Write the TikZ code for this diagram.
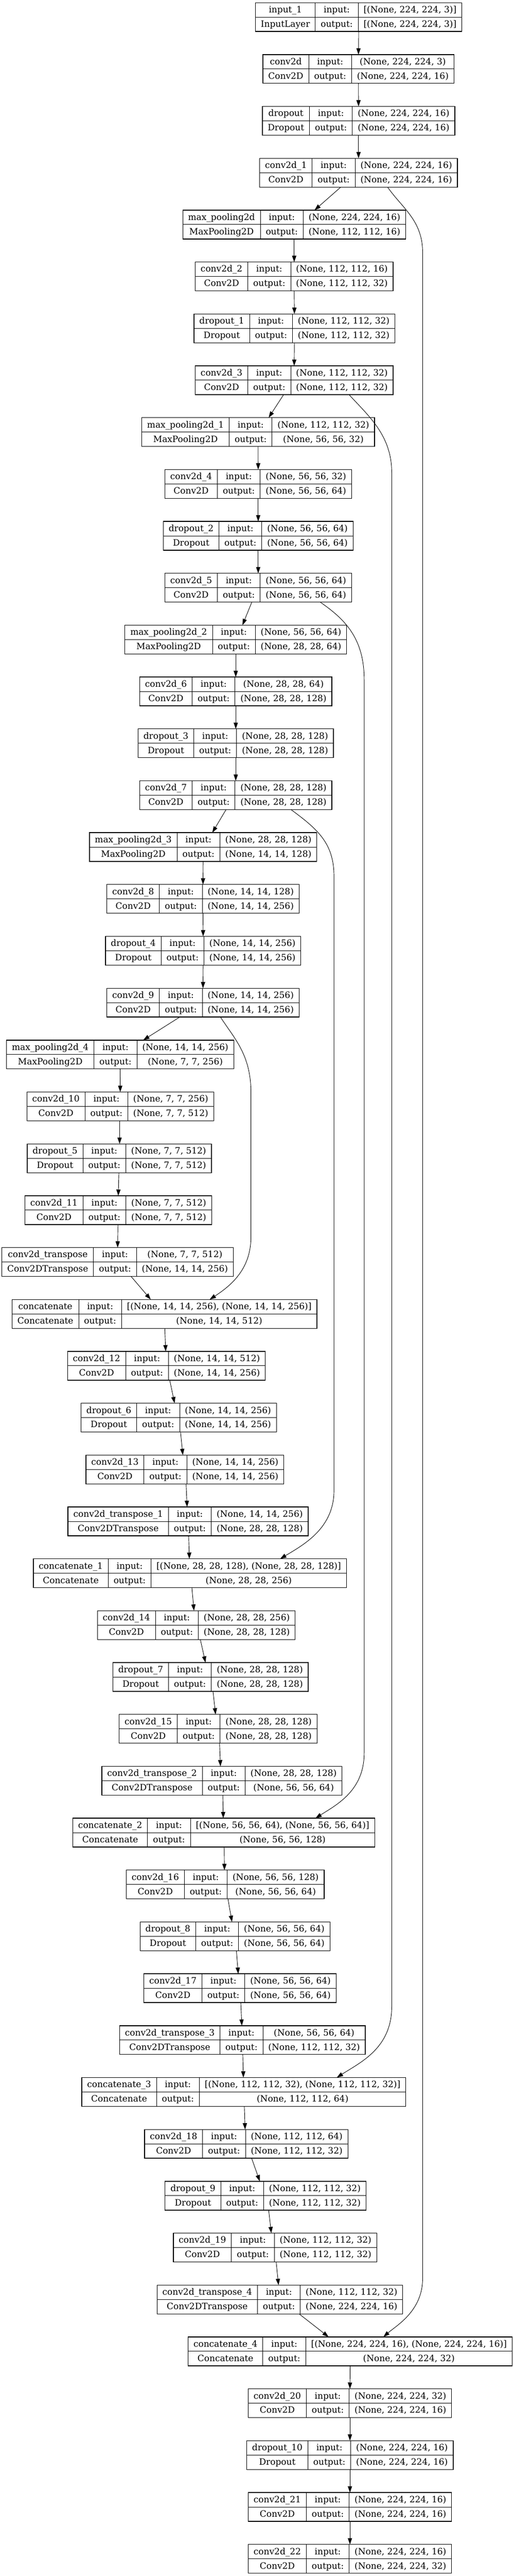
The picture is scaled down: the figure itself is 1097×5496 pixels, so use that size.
\documentclass[tikz,border=0pt]{standalone}
\usepackage{fontspec}
\setmainfont{DejaVu Serif}
\usetikzlibrary{arrows.meta}
\newcommand\kfont{\fontsize{14}{16}\selectfont}
\tikzset{
  kcell/.style={line width=0.75pt, draw=black},
  kbox/.style={line width=1.1pt, draw=black},
  ktext/.style={anchor=base, inner sep=0pt, outer sep=0pt, font=\kfont},
  karrow/.style={line width=0.75pt, draw=black, -{Triangle[length=10pt,width=6.75pt]}},
}
% width of a text, in px (1px = 0.75pt)
\newcommand\kmeasure[2]{%
  \node[ktext, anchor=base west] (kmeas) at (0,0) {\phantom{#2}};%
  \pgfpointdiff{\pgfpointanchor{kmeas}{west}}{\pgfpointanchor{kmeas}{east}}%
  \pgfgetlastxy{\kmx}{\kmy}%
  \pgfmathsetmacro#1{\kmx/0.75}%
}
% #1 name, #2 centre x (px), #3 rank, #4 layer name, #5 class, #6 input shape, #7 output shape
\newcommand\klayer[7]{%
  \kmeasure\kma{#4}\kmeasure\kmb{#5}%
  \pgfmathsetmacro\kwA{max(\kma,\kmb)+23}%
  \kmeasure\kma{input:}\kmeasure\kmb{output:}%
  \pgfmathsetmacro\kwB{max(\kma,\kmb)+23}%
  \kmeasure\kma{#6}\kmeasure\kmb{#7}%
  \pgfmathsetmacro\kwC{max(\kma,\kmb)+23}%
  \pgfmathsetmacro\kW{\kwA+\kwB+\kwC}%
  \pgfmathsetmacro\kWpt{\kW*0.75}%
  \pgfmathsetmacro\kL{#2-\kW/2}%
  \pgfmathsetmacro\kT{5.7+110.67*#3}%
  \node[minimum width=\kWpt pt, minimum height=46.125pt, inner sep=0pt, outer sep=0pt] (#1) at (#2, \kT+30.75) {};
  \draw[kcell] (\kL, \kT+30.75) -- ++(\kW, 0);
  \draw[kcell] (\kL+\kwA, \kT) -- ++(0, 61.5);
  \draw[kcell] (\kL+\kwA+\kwB, \kT) -- ++(0, 61.5);
  \draw[kbox] (\kL, \kT) rectangle ++(\kW, 61.5);
  \node[ktext] (#1-n) at (\kL+\kwA/2, \kT+21.3) {#4};
  \node[ktext] (#1-c) at (\kL+\kwA/2, \kT+52.05) {#5};
  \node[ktext] (#1-il) at (\kL+\kwA+\kwB/2, \kT+21.3) {input:};
  \node[ktext] (#1-ol) at (\kL+\kwA+\kwB/2, \kT+52.05) {output:};
  \node[ktext] (#1-i) at (\kL+\kwA+\kwB+\kwC/2, \kT+21.3) {#6};
  \node[ktext] (#1-o) at (\kL+\kwA+\kwB+\kwC/2, \kT+52.05) {#7};
}
\newcommand\kedge[4]{\draw[karrow] ([xshift=#2*0.75pt]#1.south) -- ([xshift=#4*0.75pt]#3.north);}
\begin{document}
\begin{tikzpicture}[x=0.75pt, y=-0.75pt]
\fill[white] (0,0) rectangle (1097,5496);
\useasboundingbox (0,0) rectangle (1097,5496);
\klayer{n0}{766.2}{0}{input\_1}{InputLayer}{[(None, 224, 224, 3)]}{[(None, 224, 224, 3)]}
\klayer{n1}{765.8}{1}{conv2d}{Conv2D}{(None, 224, 224, 3)}{(None, 224, 224, 16)}
\klayer{n2}{766}{2}{dropout}{Dropout}{(None, 224, 224, 16)}{(None, 224, 224, 16)}
\klayer{n3}{766}{3}{conv2d\_1}{Conv2D}{(None, 224, 224, 16)}{(None, 224, 224, 16)}
\klayer{n4}{628.5}{4}{max\_pooling2d}{MaxPooling2D}{(None, 224, 224, 16)}{(None, 112, 112, 16)}
\klayer{n5}{628.5}{5}{conv2d\_2}{Conv2D}{(None, 112, 112, 16)}{(None, 112, 112, 32)}
\klayer{n6}{629}{6}{dropout\_1}{Dropout}{(None, 112, 112, 32)}{(None, 112, 112, 32)}
\klayer{n7}{628.5}{7}{conv2d\_3}{Conv2D}{(None, 112, 112, 32)}{(None, 112, 112, 32)}
\klayer{n8}{551.5}{8}{max\_pooling2d\_1}{MaxPooling2D}{(None, 112, 112, 32)}{(None, 56, 56, 32)}
\klayer{n9}{551.6}{9}{conv2d\_4}{Conv2D}{(None, 56, 56, 32)}{(None, 56, 56, 64)}
\klayer{n10}{551.6}{10}{dropout\_2}{Dropout}{(None, 56, 56, 64)}{(None, 56, 56, 64)}
\klayer{n11}{551.6}{11}{conv2d\_5}{Conv2D}{(None, 56, 56, 64)}{(None, 56, 56, 64)}
\klayer{n12}{503.7}{12}{max\_pooling2d\_2}{MaxPooling2D}{(None, 56, 56, 64)}{(None, 28, 28, 64)}
\klayer{n13}{503.7}{13}{conv2d\_6}{Conv2D}{(None, 28, 28, 64)}{(None, 28, 28, 128)}
\klayer{n14}{503.7}{14}{dropout\_3}{Dropout}{(None, 28, 28, 128)}{(None, 28, 28, 128)}
\klayer{n15}{503.7}{15}{conv2d\_7}{Conv2D}{(None, 28, 28, 128)}{(None, 28, 28, 128)}
\klayer{n16}{434}{16}{max\_pooling2d\_3}{MaxPooling2D}{(None, 28, 28, 128)}{(None, 14, 14, 128)}
\klayer{n17}{433.7}{17}{conv2d\_8}{Conv2D}{(None, 14, 14, 128)}{(None, 14, 14, 256)}
\klayer{n18}{434}{18}{dropout\_4}{Dropout}{(None, 14, 14, 256)}{(None, 14, 14, 256)}
\klayer{n19}{433.7}{19}{conv2d\_9}{Conv2D}{(None, 14, 14, 256)}{(None, 14, 14, 256)}
\klayer{n20}{256.6}{20}{max\_pooling2d\_4}{MaxPooling2D}{(None, 14, 14, 256)}{(None, 7, 7, 256)}
\klayer{n21}{256.9}{21}{conv2d\_10}{Conv2D}{(None, 7, 7, 256)}{(None, 7, 7, 512)}
\klayer{n22}{255}{22}{dropout\_5}{Dropout}{(None, 7, 7, 512)}{(None, 7, 7, 512)}
\klayer{n23}{252.7}{23}{conv2d\_11}{Conv2D}{(None, 7, 7, 512)}{(None, 7, 7, 512)}
\klayer{n24}{251.3}{24}{conv2d\_transpose}{Conv2DTranspose}{(None, 7, 7, 512)}{(None, 14, 14, 256)}
\klayer{n25}{351.4}{25}{concatenate}{Concatenate}{[(None, 14, 14, 256), (None, 14, 14, 256)]}{(None, 14, 14, 512)}
\klayer{n26}{355.6}{26}{conv2d\_12}{Conv2D}{(None, 14, 14, 512)}{(None, 14, 14, 256)}
\klayer{n27}{381.8}{27}{dropout\_6}{Dropout}{(None, 14, 14, 256)}{(None, 14, 14, 256)}
\klayer{n28}{394.8}{28}{conv2d\_13}{Conv2D}{(None, 14, 14, 256)}{(None, 14, 14, 256)}
\klayer{n29}{401.8}{29}{conv2d\_transpose\_1}{Conv2DTranspose}{(None, 14, 14, 256)}{(None, 28, 28, 128)}
\klayer{n30}{405.7}{30}{concatenate\_1}{Concatenate}{[(None, 28, 28, 128), (None, 28, 28, 128)]}{(None, 28, 28, 256)}
\klayer{n31}{419.3}{31}{conv2d\_14}{Conv2D}{(None, 28, 28, 256)}{(None, 28, 28, 128)}
\klayer{n32}{449.8}{32}{dropout\_7}{Dropout}{(None, 28, 28, 128)}{(None, 28, 28, 128)}
\klayer{n33}{466}{33}{conv2d\_15}{Conv2D}{(None, 28, 28, 128)}{(None, 28, 28, 128)}
\klayer{n34}{474.2}{34}{conv2d\_transpose\_2}{Conv2DTranspose}{(None, 28, 28, 128)}{(None, 56, 56, 64)}
\klayer{n35}{478}{35}{concatenate\_2}{Concatenate}{[(None, 56, 56, 64), (None, 56, 56, 64)]}{(None, 56, 56, 128)}
\klayer{n36}{481}{36}{conv2d\_16}{Conv2D}{(None, 56, 56, 128)}{(None, 56, 56, 64)}
\klayer{n37}{502}{37}{dropout\_8}{Dropout}{(None, 56, 56, 64)}{(None, 56, 56, 64)}
\klayer{n38}{512.7}{38}{conv2d\_17}{Conv2D}{(None, 56, 56, 64)}{(None, 56, 56, 64)}
\klayer{n39}{518}{39}{conv2d\_transpose\_3}{Conv2DTranspose}{(None, 56, 56, 64)}{(None, 112, 112, 32)}
\klayer{n40}{520.8}{40}{concatenate\_3}{Concatenate}{[(None, 112, 112, 32), (None, 112, 112, 32)]}{(None, 112, 112, 64)}
\klayer{n41}{526}{41}{conv2d\_18}{Conv2D}{(None, 112, 112, 64)}{(None, 112, 112, 32)}
\klayer{n42}{567.3}{42}{dropout\_9}{Dropout}{(None, 112, 112, 32)}{(None, 112, 112, 32)}
\klayer{n43}{587.6}{43}{conv2d\_19}{Conv2D}{(None, 112, 112, 32)}{(None, 112, 112, 32)}
\klayer{n44}{598}{44}{conv2d\_transpose\_4}{Conv2DTranspose}{(None, 112, 112, 32)}{(None, 224, 224, 16)}
\klayer{n45}{748}{45}{concatenate\_4}{Concatenate}{[(None, 224, 224, 16), (None, 224, 224, 16)]}{(None, 224, 224, 32)}
\klayer{n46}{747.6}{46}{conv2d\_20}{Conv2D}{(None, 224, 224, 32)}{(None, 224, 224, 16)}
\klayer{n47}{747.6}{47}{dropout\_10}{Dropout}{(None, 224, 224, 16)}{(None, 224, 224, 16)}
\klayer{n48}{747.6}{48}{conv2d\_21}{Conv2D}{(None, 224, 224, 16)}{(None, 224, 224, 16)}
\klayer{n49}{747.6}{49}{conv2d\_22}{Conv2D}{(None, 224, 224, 16)}{(None, 224, 224, 32)}
% chain edges
\kedge{n0}{0}{n1}{0}
\kedge{n1}{0}{n2}{0}
\kedge{n2}{0}{n3}{0}
\kedge{n3}{-38}{n4}{43.5}
\kedge{n4}{0}{n5}{0}
\kedge{n5}{0}{n6}{0}
\kedge{n6}{0}{n7}{0}
\kedge{n7}{-22.5}{n8}{22.5}
\kedge{n8}{0}{n9}{0}
\kedge{n9}{0}{n10}{0}
\kedge{n10}{0}{n11}{0}
\kedge{n11}{-13.6}{n12}{14.3}
\kedge{n12}{0}{n13}{0}
\kedge{n13}{0}{n14}{0}
\kedge{n14}{0}{n15}{0}
\kedge{n15}{-20.7}{n16}{19.6}
\kedge{n16}{0}{n17}{0}
\kedge{n17}{0}{n18}{0}
\kedge{n18}{0}{n19}{0}
\kedge{n19}{-49.7}{n20}{49.4}
\kedge{n20}{0}{n21}{0}
\kedge{n21}{-1.4}{n22}{0.5}
\kedge{n22}{-1}{n23}{0}
\kedge{n23}{-0.7}{n24}{0}
\kedge{n24}{28.7}{n25}{-29.4}
\kedge{n25}{0.6}{n26}{-1.6}
\kedge{n26}{7}{n27}{-8.8}
\kedge{n27}{3.9}{n28}{-4.2}
\kedge{n28}{2.8}{n29}{-2.1}
\kedge{n29}{1.2}{n30}{-1.1}
\kedge{n30}{4.3}{n31}{-4.9}
\kedge{n31}{8.7}{n32}{-10.8}
\kedge{n32}{5.2}{n33}{-5.4}
\kedge{n33}{3}{n34}{-3.2}
\kedge{n34}{1.8}{n35}{-1}
\kedge{n35}{1}{n36}{-1.5}
\kedge{n36}{6}{n37}{-6.4}
\kedge{n37}{3}{n38}{-3.7}
\kedge{n38}{1.8}{n39}{-1.4}
\kedge{n39}{0.7}{n40}{-0.8}
\kedge{n40}{1.2}{n41}{-2.4}
\kedge{n41}{11.6}{n42}{-12.3}
\kedge{n42}{6.7}{n43}{-8}
\kedge{n43}{2.4}{n44}{-3}
\kedge{n44}{41}{n45}{-46}
\kedge{n45}{0}{n46}{0}
\kedge{n46}{0}{n47}{0}
\kedge{n47}{0}{n48}{0}
\kedge{n48}{0}{n49}{0}
% skip connections
\draw[karrow] ([xshift=62*0.75pt]n3.south) .. controls (860,445) and (903,470) .. (903,540)
  -- (903,4860) .. controls (903,4930) and (849,4960) .. ([xshift=71*0.75pt]n45.north);
\draw[karrow] ([xshift=117*0.75pt]n7.south) .. controls (790,890) and (837,930) .. (837,1010)
  -- (837,4280) .. controls (837,4370) and (770,4400) .. ([xshift=198.8*0.75pt]n40.north);
\draw[karrow] ([xshift=132.4*0.75pt]n11.south) .. controls (735,1320) and (778,1360) .. (778,1450)
  -- (778,3740) .. controls (778,3820) and (720,3850) .. ([xshift=196*0.75pt]n35.north);
\draw[karrow] ([xshift=117.9*0.75pt]n15.south) .. controls (680,1770) and (713.5,1800) .. (713.5,1870)
  -- (713.5,3180) .. controls (713.5,3260) and (650,3295) .. ([xshift=192.8*0.75pt]n30.north);
\draw[karrow] ([xshift=37.3*0.75pt]n19.south) .. controls (500,2215) and (536,2250) .. (536,2330)
  -- (536,2640) .. controls (536,2710) and (490,2745) .. ([xshift=96.6*0.75pt]n25.north);
\end{tikzpicture}
\end{document}
